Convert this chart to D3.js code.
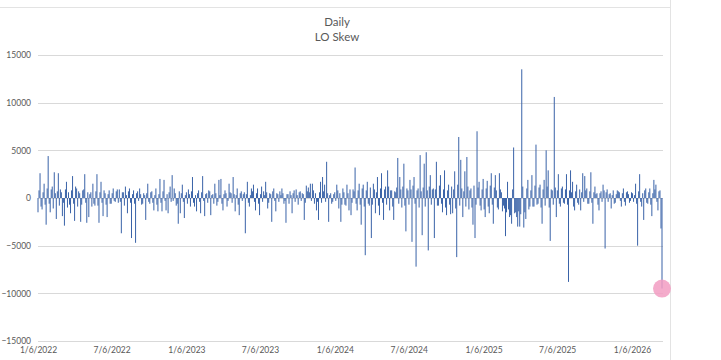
<!DOCTYPE html>
<html>
<head>
<meta charset="utf-8">
<script src="https://cdn.jsdelivr.net/npm/d3@7/dist/d3.min.js"></script>
<style>
  html, body { margin: 0; padding: 0; background: #ffffff; }
  svg { display: block; }
</style>
</head>
<body>
<svg id="chart" width="721" height="360"></svg>
<script>
// ---- DATA ----
const titleLines = ["Daily", "LO Skew"];
const startDate = "2022-01-06";
const stepHours = 60; // readings sampled about every 2.5 calendar days
const values = [
  -1500, 800, 2600, -900, -1200, 600, 1500, -700, -2800, 1000, 4400, -600, -1500, 900, 1200, -1100, 2700, 500, -2200, 700,
  2600, -800, 900, 600, -1900, -500, -2900, 900, 1700, -1000, 600, -700, -1600, 800, 2300, -600, -2400, 1200, 1000, -900,
  700, 500, -2500, -700, 800, 900, 2500, -500, -2600, 600, -2000, 400, 600, -900, 1500, -600, -800, 700, 2500, -800,
  -2600, 600, 1700, -500, -1900, 800, 500, -700, -2000, 400, 800, -600, -600, 500, 1000, -300, -400, 700, 900, -500,
  900, -400, -3700, 600, 600, -800, 1200, 300, -1600, 700, 1000, -500, -4200, 400, 800, -600, -4700, 500, 700, -300,
  1000, 400, -700, -600, 500, 300, -2300, 500, 1500, -400, -600, 600, 700, -500, -1300, 300, 1000, -700, -1400, 400,
  2000, -500, -1400, 700, 1900, -300, -1300, 400, -1600, 600, 1200, -400, 2400, -300, 1000, 500, -800, -600, -2700, 700,
  -1600, 500, 1400, -400, -2100, 300, 600, -600, 900, 400, -900, 700, 2200, -500, -900, 300, -1400, 500, 800, -400,
  -1600, 600, 2300, -300, -1900, 400, 500, -500, 800, 700, -1800, 300, 400, -600, 1500, 500, -800, -400, 1900, 300,
  2000, -600, -1300, 400, 800, 500, -900, -300, 1500, 600, 500, -500, 2200, 400, -1400, 300, 1000, -700, -1800, 500,
  700, -300, 400, 600, -3700, 400, 1700, -500, -900, 300, 1000, 700, 1400, -400, -1300, 500, 1000, -600, -1800, 400,
  1200, -400, 700, 300, 1700, 600, -1100, -500, 500, 400, -2500, 700, 1000, -300, -1400, 500, 400, -400, 700, 300,
  1000, 500, -600, -300, -2600, 400, 400, -600, 700, 300, -1600, 500, 800, -400, 900, 300, -700, 600, 700, -300,
  500, 400, -2300, -500, 1300, 700, 1100, 600, 1500, -300, 1500, 800, -600, 500, -1300, -400, -2300, 600, 1700, -500,
  2200, 700, 1400, -400, 3800, 500, -2500, 300, 500, -600, -400, 400, 600, -300, 1400, 800, -1100, 500, -2500, -700,
  1000, 600, -700, -800, 1400, 500, -1300, 900, -1800, -500, 900, 700, 3200, -600, -1300, 800, 1500, -700, -2800, 1000,
  1400, -900, -6000, 800, 1700, -600, -800, 1100, -4200, -700, 1500, 900, -1600, 600, 2200, -800, -1800, 1000, 2600, -500,
  -2300, 900, 1200, -700, 2900, 1200, -1300, 800, 800, -900, -2300, 700, 600, 1100, 4200, -600, 2200, 900, -1000, 1200,
  3600, -800, -3500, 1000, 800, -700, 1900, 900, -4600, 1300, 2200, -600, -7200, 800, 1000, -1000, 4500, 700, -3900, 1100,
  3600, -900, 4800, 800, -5500, 1200, 2400, -700, 900, 1000, -4200, 900, 3800, -800, -800, 1300, 2400, -600, -1500, 900,
  2900, -1000, -1800, 800, 1400, -700, -1700, 1200, -1600, 900, 2800, -1100, -6200, 1400, 6400, -800, 4000, 1000, -2000, 700,
  2800, -900, 4300, 1200, -1200, 800, 1000, -1000, -2800, 1300, -4200, -700, 7000, 1100, 1700, -800, -1300, 900, 2000, -1200,
  -2000, 1000, 1800, -900, -1600, 1300, 2600, -700, -2700, 1100, 2400, 800, -1000, -1200, 2600, 900, 600, -1400, -800, -1100,
  -4000, -1500, 1700, -1200, -2000, -1800, -2700, 900, 5300, -1600, -1500, -2000, -3000, -1400, -3000, -1700, 13500, 1200, -3100, -1500,
  -2200, 1000, 1900, -1200, -900, 800, 2400, -900, -900, 1300, 5600, -700, -600, 1100, 1400, -1000, -2700, 900, 1900, -800,
  5000, 1200, 2900, -1000, -4500, 900, 800, -700, 10600, 1100, -2000, 800, 2500, -600, -900, 1000, 1200, -500, -600, 900,
  2500, -700, -8800, 800, 2900, 600, 1700, -900, -1300, 700, 1400, -500, -700, 900, -1300, 600, 2600, -400, 2300, 800,
  1000, -600, -600, 700, 2700, -500, -2700, 600, 1200, 400, 500, -700, -1300, 500, 700, -400, 1400, 800, -5300, 600,
  900, -400, 400, 500, -1100, 300, 800, -600, -500, 400, 800, 700, 600, -300, -900, 500, 1000, -400, -800, 600,
  700, 400, -500, -300, 600, 500, -400, 300, 1500, -600, -5000, 700, 2500, -400, -900, 500, -2300, 800, 1000, -500,
  -600, 600, 1000, -700, -1900, 500, 1900, 900, 1400, -400, -1300, 700, 800, -3200, -9500
];
const yTickValues = [-15000, -10000, -5000, 0, 5000, 10000, 15000];
const xTickLabels = ["1/6/2022", "7/6/2022", "1/6/2023", "7/6/2023", "1/6/2024", "7/6/2024", "1/6/2025", "7/6/2025", "1/6/2026"];
const highlightIndex = values.length - 1; // circled last reading

// ---- BUILD ----
const parseISO = d3.utcParse("%Y-%m-%d");
const parseMDY = d3.utcParse("%m/%d/%Y");
const t0 = parseISO(startDate);
const data = values.map((v, i) => ({ date: d3.utcHour.offset(t0, i * stepHours), value: v }));
const tickDates = xTickLabels.map(s => parseMDY(s));

const svg = d3.select("#chart");
const W = 721, H = 360;
const plot = { left: 38, right: 663, top: 55, bottom: 341 };

const x = d3.scaleUtc()
  .domain([data[0].date, data[data.length - 1].date])
  .range([plot.left, plot.right - 1]);
const y = d3.scaleLinear()
  .domain([d3.min(yTickValues), d3.max(yTickValues)])
  .range([plot.bottom, plot.top]);

// chart frame (top line and right edge of chart area)
svg.append("line").attr("x1", 0).attr("x2", 670.5).attr("y1", 7.5).attr("y2", 7.5)
  .attr("stroke", "#e3e3e3").attr("stroke-width", 1);
svg.append("line").attr("x1", 670.5).attr("x2", 670.5).attr("y1", 0).attr("y2", H)
  .attr("stroke", "#e3e3e3").attr("stroke-width", 1);

// title
const title = svg.append("text")
  .attr("x", 337).attr("y", 26)
  .attr("text-anchor", "middle")
  .attr("font-family", "Lato, 'Open Sans', sans-serif")
  .attr("font-size", 11.5)
  .attr("fill", "#595959");
titleLines.forEach((t, i) => {
  title.append("tspan").attr("x", 337).attr("dy", i === 0 ? 0 : 15).text(t);
});

// gridlines
svg.append("g").selectAll("line").data(yTickValues).join("line")
  .attr("x1", plot.left).attr("x2", plot.right)
  .attr("y1", d => Math.round(y(d)) + 0.5).attr("y2", d => Math.round(y(d)) + 0.5)
  .attr("stroke", "#d9d9d9").attr("stroke-width", 1);

// y axis labels
const yAxis = d3.axisLeft(y).tickValues(yTickValues).tickSize(0).tickPadding(0)
  .tickFormat(d3.format("d"));
const gy = svg.append("g").attr("transform", `translate(31,0)`).call(yAxis);
gy.select(".domain").remove();
gy.selectAll("text")
  .attr("font-family", "Lato, 'Open Sans', sans-serif")
  .attr("font-size", 8.5).attr("fill", "#595959");

// x axis labels
const xAxis = d3.axisBottom(x).tickValues(tickDates).tickSize(0).tickPadding(0)
  .tickFormat((d, i) => xTickLabels[i]);
const gx = svg.append("g").attr("transform", `translate(0,${plot.bottom + 6})`).call(xAxis);
gx.select(".domain").remove();
gx.selectAll("text")
  .attr("font-family", "Lato, 'Open Sans', sans-serif")
  .attr("font-size", 8.5).attr("fill", "#595959");

// bars
const bw = 1.0;
svg.append("g").selectAll("rect").data(data).join("rect")
  .attr("x", d => x(d.date) - bw / 2)
  .attr("width", bw)
  .attr("y", d => Math.min(y(d.value), y(0)))
  .attr("height", d => Math.abs(y(d.value) - y(0)))
  .attr("fill", "#3a63a8");

// highlight circle on last reading
const hd = data[highlightIndex];
svg.append("circle")
  .attr("cx", x(hd.date)).attr("cy", y(hd.value))
  .attr("r", 9)
  .attr("fill", "#f29cc2").attr("fill-opacity", 0.85);
</script>
</body>
</html>
